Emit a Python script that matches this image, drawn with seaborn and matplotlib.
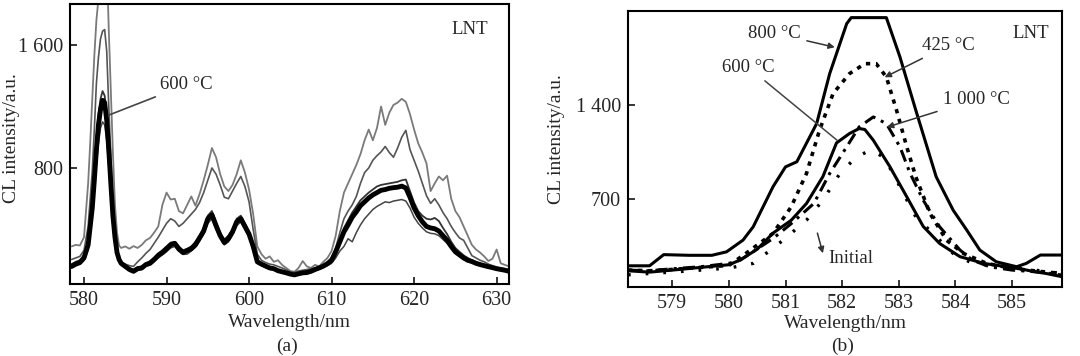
import matplotlib
matplotlib.use('Agg')
import matplotlib.pyplot as plt
import seaborn as sns
import pandas as pd

# ==========================================
# DATOS - panel (a): espectro completo
# ==========================================
wl_a = [578.5, 579.0, 579.5, 580.0, 580.5, 580.75, 581.0, 581.25, 581.5, 581.75,
        582.0, 582.25, 582.5, 582.75, 583.0, 583.25, 583.5, 583.75, 584.0, 584.25,
        584.5, 585.0, 585.5, 586.0, 586.5, 587.0, 587.5, 588.0, 588.5, 589.0,
        589.5, 590.0, 590.5, 591.0, 591.5, 592.0, 592.5, 593.0, 593.5, 594.0,
        594.5, 595.0, 595.5, 596.0, 596.5, 597.0, 597.5, 598.0, 598.5, 599.0,
        599.5, 600.0, 600.5, 601.0, 601.5, 602.0, 602.5, 603.0, 603.5, 604.0,
        604.5, 605.0, 605.5, 606.0, 606.5, 607.0, 607.5, 608.0, 608.5, 609.0,
        609.5, 610.0, 610.5, 611.0, 611.5, 612.0, 612.5, 613.0, 613.5, 614.0,
        614.5, 615.0, 615.5, 616.0, 616.5, 617.0, 617.5, 618.0, 618.5, 619.0,
        619.5, 620.0, 620.5, 621.0, 621.5, 622.0, 622.5, 623.0, 623.5, 624.0,
        624.5, 625.0, 625.5, 626.0, 626.5, 627.0, 627.5, 628.0, 628.5, 629.0,
        629.5, 630.0, 630.5, 631.0, 631.5]

a_800 = [290, 300, 296, 350, 700, 960, 1250, 1530, 1760, 1900,
         2250, 2500, 2480, 2150, 1700, 1300, 900, 560, 380, 295,
         280, 290, 275, 292, 280, 300, 330, 345, 380, 420,
         560, 640, 595, 600, 520, 505, 560, 615, 555, 630,
         720, 820, 930, 870, 760, 680, 650, 690, 760, 850,
         770, 660, 500, 290, 240, 210, 225, 190, 200, 170,
         150, 130, 125, 150, 195, 160, 150, 170, 160, 190,
         215, 260, 360, 520, 640, 700, 760, 820, 890, 980,
         1050, 980, 1060, 1200, 1080, 1160, 1210, 1225, 1250, 1230,
         1150, 1050, 960, 900, 830, 650, 700, 745, 720, 750,
         600, 520, 480, 420, 360, 300, 270, 250, 225, 195,
         210, 270, 180, 170, 160]

a_425 = [205, 215, 225, 265, 420, 600, 780, 1050, 1350, 1520,
         1640, 1690, 1700, 1560, 1200, 880, 560, 370, 270, 215,
         190, 175, 165, 160, 190, 215, 245, 270, 310, 350,
         395, 440, 470, 455, 420, 440, 470, 500, 530, 575,
         640, 720, 800, 760, 690, 610, 600, 650, 700, 745,
         680, 580, 400, 240, 200, 185, 175, 170, 160, 150,
         138, 125, 122, 130, 135, 140, 145, 150, 158, 165,
         180, 215, 280, 380, 470, 520, 560, 615, 700, 770,
         800, 850, 880, 905, 940, 900, 870, 930, 1000, 1045,
         920, 850, 780, 700, 620, 570, 600, 560, 510, 470,
         420, 380, 345, 330, 280, 230, 215, 200, 190, 175,
         165, 155, 150, 145, 140]

a_1000 = [175, 190, 200, 235, 330, 460, 600, 790, 990, 1150,
          1250, 1300, 1270, 1150, 950, 720, 500, 360, 260, 210,
          185, 165, 150, 140, 155, 160, 180, 195, 215, 245,
          265, 290, 315, 320, 290, 265, 275, 290, 320, 360,
          410, 490, 520, 450, 380, 335, 360, 400, 470, 490,
          440, 385, 300, 200, 180, 168, 155, 150, 140, 132,
          124, 115, 112, 118, 125, 128, 135, 148, 158, 170,
          188, 215, 270, 340, 410, 460, 510, 550, 590, 615,
          640, 660, 680, 690, 695, 700, 705, 710, 720, 725,
          650, 575, 520, 490, 470, 465, 475, 455, 410, 370,
          320, 280, 255, 232, 215, 200, 188, 178, 170, 162,
          156, 150, 144, 138, 132]

a_600 = [160, 175, 185, 215, 300, 420, 540, 720, 919, 1080,
         1180, 1240, 1225, 1110, 920, 700, 490, 350, 250, 205,
         180, 160, 140, 128, 145, 150, 172, 180, 205, 232,
         250, 275, 300, 310, 272, 250, 262, 275, 300, 345,
         390, 470, 495, 425, 360, 315, 340, 385, 450, 470,
         420, 370, 290, 190, 175, 162, 150, 145, 132, 125,
         118, 110, 105, 112, 118, 120, 128, 140, 150, 162,
         178, 200, 255, 320, 385, 430, 480, 515, 555, 580,
         605, 625, 640, 655, 660, 668, 672, 675, 682, 670,
         610, 540, 490, 450, 420, 410, 405, 390, 360, 330,
         290, 255, 235, 215, 200, 192, 180, 172, 165, 158,
         152, 145, 140, 135, 128]

a_initial = [150, 165, 175, 200, 270, 370, 480, 640, 820, 960,
             1060, 1100, 1080, 980, 810, 610, 430, 310, 230, 190,
             170, 150, 135, 125, 135, 140, 160, 170, 190, 215,
             235, 255, 280, 290, 262, 238, 240, 260, 285, 325,
             370, 440, 470, 400, 345, 300, 320, 365, 425, 450,
             400, 350, 275, 180, 165, 155, 142, 138, 128, 120,
             112, 105, 100, 108, 112, 116, 122, 132, 142, 152,
             165, 180, 215, 260, 290, 340, 320, 380, 430, 470,
             500, 530, 550, 565, 580, 575, 585, 590, 595, 585,
             540, 480, 440, 410, 385, 375, 372, 360, 335, 310,
             275, 245, 225, 205, 192, 182, 172, 165, 158, 150,
             145, 138, 134, 128, 122]

yticks_a = [800, 1600]
yticklabels_a = ['800', '1 600']
xticks_a = [580, 590, 600, 610, 620, 630]

# ==========================================
# DATOS - panel (b): detalle del pico 582 nm
# ==========================================
b800_x = [578.22, 578.6, 578.85, 579.3, 579.7, 579.96, 580.25, 580.43, 580.78, 581.0,
          581.2, 581.55, 581.78, 582.08, 582.16, 582.78, 583.02, 583.3, 583.66, 583.96,
          584.2, 584.43, 584.72, 585.08, 585.25, 585.5, 585.88]
b800_y = [207, 207, 290, 285, 285, 311, 398, 497, 795, 942,
          980, 1264, 1635, 2006, 2051, 2051, 1759, 1363, 868, 620,
          472, 324, 237, 200, 225, 287, 287]

b600_x = [578.22, 578.6, 579.0, 579.5, 580.0, 580.2, 580.5, 580.78, 581.1, 581.37,
          581.66, 581.9, 582.13, 582.3, 582.4, 582.55, 582.84, 583.14, 583.43, 583.72,
          584.08, 584.5, 584.9, 585.2, 585.4, 585.6, 585.88]
b600_y = [170, 160, 175, 195, 215, 250, 330, 450, 545, 670,
          870, 1120, 1190, 1227, 1220, 1140, 945, 720, 500, 373,
          275, 225, 200, 180, 163, 150, 126]

b425_x = [578.22, 578.6, 579.0, 579.5, 580.0, 580.3, 580.78, 581.1, 581.37, 581.6,
          581.84, 582.13, 582.4, 582.6, 582.78, 582.96, 583.14, 583.3, 583.55, 583.84,
          584.14, 584.55, 585.0, 585.5, 585.88]
b425_y = [175, 170, 180, 195, 210, 299, 448, 645, 893, 1214,
          1487, 1635, 1709, 1709, 1610, 1363, 1091, 868, 596, 398,
          299, 225, 188, 165, 150]

b1000_x = [578.22, 578.6, 579.0, 579.5, 580.0, 580.2, 580.78, 581.1, 581.5, 581.78,
           582.08, 582.3, 582.55, 582.78, 583.02, 583.2, 583.43, 583.72, 584.08, 584.3,
           584.6, 585.0, 585.5, 585.88]
b1000_y = [175, 170, 185, 200, 225, 249, 410, 520, 670, 893,
           1091, 1239, 1313, 1264, 1091, 893, 695, 497, 324, 249,
           200, 175, 160, 138]

binit_x = [578.22, 579.0, 579.5, 580.0, 580.43, 580.96, 581.37, 581.66, 581.96, 582.25,
           582.5, 582.73, 582.9, 583.08, 583.3, 583.6, 583.96, 584.3, 584.9, 585.4,
           585.88]
binit_y = [140, 160, 175, 190, 225, 398, 546, 695, 893, 1016,
           1066, 1016, 893, 745, 571, 448, 299, 225, 200, 175,
           150]

yticks_b = [700, 1400]
yticklabels_b = ['700', '1 400']
xticks_b = [579, 580, 581, 582, 583, 584, 585]

# ==========================================
# ESTILO
# ==========================================
sns.set_style("ticks")
plt.rcParams['font.family'] = ['Liberation Serif', 'DejaVu Serif']
plt.rcParams['axes.linewidth'] = 1.5
FS_TICK = 14.5
FS_LAB = 14
FS_TXT = 13.5


def style_axes(ax, xticks, yticks, yticklabels, ylab_x, ylab_y, xlab_y):
    ax.set_xticks(xticks)
    ax.set_xticklabels([str(t) for t in xticks])
    ax.set_yticks(yticks)
    ax.set_yticklabels(yticklabels)
    ax.tick_params(direction='in', length=5, width=1.3, labelsize=FS_TICK, pad=5)
    for s in ax.spines.values():
        s.set_visible(True)
        s.set_color('black')
    ax.set_xlabel('Wavelength/nm', fontsize=FS_LAB)
    ax.set_ylabel('CL intensity/a.u.', fontsize=FS_LAB)
    ax.xaxis.set_label_coords(0.5, xlab_y)
    ax.yaxis.set_label_coords(ylab_x, ylab_y)


fig = plt.figure(figsize=(10.8, 3.56), dpi=100)
ax_a = fig.add_axes([0.0648, 0.202, 0.4065, 0.787])
ax_b = fig.add_axes([0.5815, 0.194, 0.4018, 0.775])

# ---- panel (a)
df_a = pd.DataFrame({'wl': wl_a, 'c800': a_800, 'c425': a_425, 'c1000': a_1000,
                     'c600': a_600, 'cinit': a_initial})
sns.lineplot(data=df_a, x='wl', y='c800', ax=ax_a, color='#7a7a7a', lw=1.3, sort=False, estimator=None)
sns.lineplot(data=df_a, x='wl', y='c425', ax=ax_a, color='#555555', lw=1.2, sort=False, estimator=None)
sns.lineplot(data=df_a, x='wl', y='c1000', ax=ax_a, color='#333333', lw=1.3, sort=False, estimator=None)
sns.lineplot(data=df_a, x='wl', y='cinit', ax=ax_a, color='#444444', lw=1.1, sort=False, estimator=None)
sns.lineplot(data=df_a, x='wl', y='c600', ax=ax_a, color='black', lw=3.5, sort=False, estimator=None)
ax_a.set_xlim(578.3, 631.5)
ax_a.set_ylim(45, 1867)
style_axes(ax_a, xticks_a, yticks_a, yticklabels_a, -0.114, 0.52, -0.105)
ax_a.annotate('600 °C', xy=(583.1, 1146), xytext=(589.2, 1341), fontsize=FS_TXT,
              va='center', ha='left',
              arrowprops=dict(arrowstyle='-', color='#444444', lw=1.2, shrinkA=1, shrinkB=0))
ax_a.text(0.87, 0.91, 'LNT', transform=ax_a.transAxes, fontsize=FS_TXT, va='center', ha='left')

# ---- panel (b)
sns.lineplot(x=b800_x, y=b800_y, ax=ax_b, color='black', lw=2.2, sort=False, estimator=None)
sns.lineplot(x=b600_x, y=b600_y, ax=ax_b, color='black', lw=2.2, sort=False, estimator=None)
sns.lineplot(x=b425_x, y=b425_y, ax=ax_b, color='black', lw=2.6, sort=False, estimator=None,
             linestyle=(0, (1.2, 1.6)))
sns.lineplot(x=b1000_x, y=b1000_y, ax=ax_b, color='black', lw=2.2, sort=False, estimator=None,
             linestyle=(0, (4, 2, 1, 2)))
sns.lineplot(x=binit_x, y=binit_y, ax=ax_b, color='black', lw=2.4, sort=False, estimator=None,
             linestyle=(0, (0.8, 4.5)))
ax_b.set_xlim(578.22, 585.88)
ax_b.set_ylim(50, 2100)
style_axes(ax_b, xticks_b, yticks_b, yticklabels_b, -0.145, 0.536, -0.101)

arrow_kw = dict(arrowstyle='-|>', color='#333333', lw=1.1, mutation_scale=9, shrinkA=2, shrinkB=0)
ax_b.annotate('800 °C', xy=(581.87, 1831), xytext=(580.34, 1934), fontsize=FS_TXT,
              va='center', ha='left', arrowprops=arrow_kw)
ax_b.annotate('425 °C', xy=(582.75, 1608), xytext=(583.41, 1845), fontsize=FS_TXT,
              va='center', ha='left', arrowprops=arrow_kw)
ax_b.annotate('600 °C', xy=(581.91, 1140), xytext=(579.88, 1682), fontsize=FS_TXT,
              va='center', ha='left',
              arrowprops=dict(arrowstyle='-', color='#444444', lw=1.1, shrinkA=2, shrinkB=0))
ax_b.annotate('1 000 °C', xy=(582.79, 1237), xytext=(583.78, 1445), fontsize=FS_TXT,
              va='center', ha='left', arrowprops=arrow_kw)
ax_b.annotate('', xy=(581.66, 300), xytext=(581.55, 470), arrowprops=arrow_kw)
ax_b.text(581.75, 264, 'Initial', fontsize=FS_TXT, va='center', ha='left')
ax_b.text(0.885, 0.92, 'LNT', transform=ax_b.transAxes, fontsize=FS_TXT, va='center', ha='left')

fig.text(0.266, 0.027, '(a)', fontsize=FS_LAB, ha='center', va='center')
fig.text(0.780, 0.027, '(b)', fontsize=FS_LAB, ha='center', va='center')

plt.savefig('out.png', dpi=100)
